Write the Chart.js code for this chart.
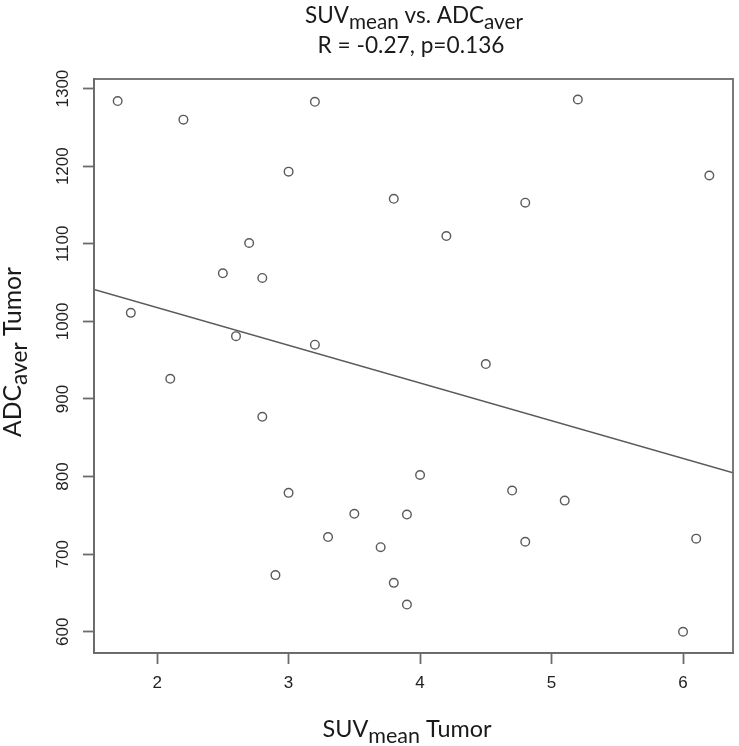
<!DOCTYPE html>
<html>
<head>
<meta charset="utf-8">
<script src="https://cdn.jsdelivr.net/npm/chart.js@4.4.1/dist/chart.umd.min.js"></script>
<style>
  html, body { margin: 0; padding: 0; background: #fff; }
  #wrap { width: 739px; height: 746px; position: relative; }
</style>
</head>
<body>
<div id="wrap"><canvas id="myChart"></canvas></div>
<script>
// SUVmean vs ADCaver
var suvMean = [1.7, 2.2, 3.2, 3.0, 3.8, 2.7, 2.5, 2.8, 1.8, 2.6, 3.2, 2.1,
               5.2, 6.2, 4.8, 4.2, 4.5,
               2.8, 3.0, 3.5, 3.9, 3.3, 3.7, 2.9, 3.8, 3.9,
               4.0, 4.7, 5.1, 4.8, 6.1, 6.0];
var adcAver = [1284, 1260, 1283, 1193, 1158, 1101, 1062, 1056, 1011, 981, 970, 926,
               1286, 1188, 1153, 1110, 945,
               877, 779, 752, 751, 722, 709, 673, 663, 635,
               802, 782, 769, 716, 720, 600];

// regression line ends (read at the frame edges)
var fitX = [1.52, 6.38];
var fitY = [1041, 805];

var xTicks = [2, 3, 4, 5, 6];
var yTicks = [600, 700, 800, 900, 1000, 1100, 1200, 1300];
var xRange = [1.52, 6.38];
var yRange = [572.6, 1312.4];

var gray = '#5a5a5a';
var frameGray = '#6b6b6b';
var txtFont = 'Lato, "Open Sans", sans-serif';

// text with a lowered part, squeezed to a given width
function drawRich(ctx, parts, cx, base, targetW, angle) {
    var size = 20;
    ctx.font = size + 'px ' + txtFont;
    var w = 0;
    parts.forEach(function(p){ w += ctx.measureText(p[0]).width * (p[1] ? 0.92 : 1); });
    size = size * targetW / w;
    var total = 0;
    var widths = parts.map(function(p){
        ctx.font = (p[1] ? size * 0.92 : size) + 'px ' + txtFont;
        var m = ctx.measureText(p[0]).width;
        total += m;
        return m;
    });
    ctx.save();
    ctx.translate(cx, base);
    ctx.rotate(angle || 0);
    ctx.fillStyle = '#1a1a1a';
    ctx.textBaseline = 'alphabetic';
    ctx.textAlign = 'left';
    var x = -total / 2;
    parts.forEach(function(p, i){
        ctx.font = (p[1] ? size * 0.92 : size) + 'px ' + txtFont;
        ctx.fillText(p[0], x, p[1] ? size * 0.26 : 0);
        x += widths[i];
    });
    ctx.restore();
}

var framePlugin = {
    id: 'frame',
    afterDraw: function(chart) {
        var ctx = chart.ctx, a = chart.chartArea;
        ctx.save();
        ctx.strokeStyle = frameGray;
        ctx.lineWidth = 1.8;
        ctx.strokeRect(a.left, a.top, a.right - a.left, a.bottom - a.top);

        // y tick labels, turned like in R
        var ys = chart.scales.y;
        ctx.fillStyle = '#222';
        ctx.font = '17px "Liberation Sans", Arial, sans-serif';
        ctx.textAlign = 'center';
        ctx.textBaseline = 'middle';
        ys.ticks.forEach(function(t){
            var py = ys.getPixelForValue(t.value);
            ctx.save();
            ctx.translate(63, py);
            ctx.rotate(-Math.PI / 2);
            ctx.fillText(String(t.value), 0, 0);
            ctx.restore();
        });
        ctx.restore();

        drawRich(ctx, [['SUV', 0], ['mean', 1], [' vs. ADC', 0], ['aver', 1]], 414, 23, 218);
        drawRich(ctx, [['R = -0.27, p=0.136', 0]], 411, 53, 187);
        drawRich(ctx, [['SUV', 0], ['mean', 1], [' Tumor', 0]], 407, 737, 169);
        drawRich(ctx, [['ADC', 0], ['aver', 1], [' Tumor', 0]], 21, 352, 170, -Math.PI / 2);
    }
};

var pts = suvMean.map(function(v, i){ return { x: v, y: adcAver[i] }; });
var fitPts = fitX.map(function(v, i){ return { x: v, y: fitY[i] }; });

var config = {
    type: 'scatter',
    data: {
        datasets: [{
            label: 'fit',
            type: 'line',
            data: fitPts,
            borderColor: gray,
            borderWidth: 1.5,
            pointRadius: 0,
            fill: false
        }, {
            label: 'points',
            data: pts,
            pointRadius: 4.3,
            pointBorderWidth: 1.4,
            borderColor: gray,
            backgroundColor: 'rgba(0,0,0,0)'
        }]
    },
    options: {
        responsive: true,
        maintainAspectRatio: false,
        animation: false,
        events: [],
        layout: { padding: { top: 79, right: 6, left: 0, bottom: 0 } },
        plugins: { legend: { display: false }, title: { display: false }, tooltip: { enabled: false } },
        scales: {
            x: {
                type: 'linear',
                min: xRange[0],
                max: xRange[1],
                afterBuildTicks: function(s){ s.ticks = xTicks.map(function(v){ return { value: v }; }); },
                afterFit: function(s){ s.height = 93; },
                border: { display: true, color: frameGray, width: 1.8 },
                grid: { drawOnChartArea: false, drawTicks: true, tickLength: 11, tickColor: frameGray, tickWidth: 1.8 },
                ticks: { color: '#222', padding: 9, maxRotation: 0, font: { family: '"Liberation Sans", Arial, sans-serif', size: 17 } }
            },
            y: {
                type: 'linear',
                min: yRange[0],
                max: yRange[1],
                afterBuildTicks: function(s){ s.ticks = yTicks.map(function(v){ return { value: v }; }); },
                afterFit: function(s){ s.width = 94; },
                border: { display: true, color: frameGray, width: 1.8 },
                grid: { drawOnChartArea: false, drawTicks: true, tickLength: 11, tickColor: frameGray, tickWidth: 1.8 },
                ticks: { color: 'rgba(0,0,0,0)', font: { size: 17 } }
            }
        }
    },
    plugins: [framePlugin]
};

const myChart = new Chart(document.getElementById('myChart'), config);
</script>
</body>
</html>
